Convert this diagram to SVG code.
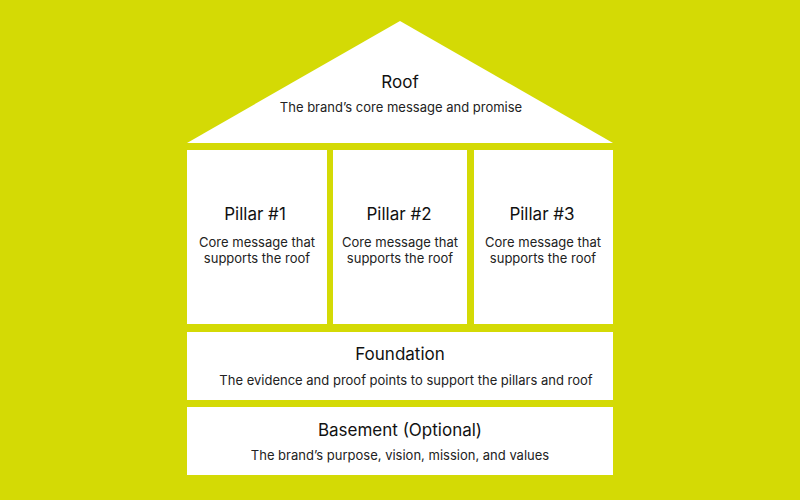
<svg xmlns="http://www.w3.org/2000/svg" width="800" height="500" viewBox="0 0 800 500">
<style>
.bg{fill:#d4da05}
.box{fill:#ffffff}
.t{font-family:Inter,"Liberation Sans",sans-serif;font-size:17px;font-weight:400;fill:#111;text-anchor:middle}
.s{font-family:Inter,"Liberation Sans",sans-serif;font-size:13px;fill:#222;text-anchor:middle}
</style>
<rect class="bg" x="0" y="0" width="800" height="500"/>
<g id="roof">
<polygon class="box" points="400,21 613,143 187,143"/>
<text class="t" x="400" y="88">Roof</text>
<text class="s" x="401" y="112">The brand’s core message and promise</text>
</g>
<g id="pillar1">
<rect class="box" x="187" y="150" width="140" height="174"/>
<text class="t" x="255" y="220">Pillar #1</text>
<text class="s" x="257" y="247">Core message that</text>
<text class="s" x="257" y="263">supports the roof</text>
</g>
<g id="pillar2">
<rect class="box" x="333" y="150" width="134" height="174"/>
<text class="t" x="399" y="220">Pillar #2</text>
<text class="s" x="400" y="247">Core message that</text>
<text class="s" x="400" y="263">supports the roof</text>
</g>
<g id="pillar3">
<rect class="box" x="474" y="150" width="139" height="174"/>
<text class="t" x="542" y="220">Pillar #3</text>
<text class="s" x="543" y="247">Core message that</text>
<text class="s" x="543" y="263">supports the roof</text>
</g>
<g id="foundation">
<rect class="box" x="187" y="332" width="426" height="68"/>
<text class="t" x="400" y="360">Foundation</text>
<text class="s" x="406" y="385">The evidence and proof points to support the pillars and roof</text>
</g>
<g id="basement">
<rect class="box" x="187" y="407" width="426" height="68"/>
<text class="t" x="400" y="436">Basement (Optional)</text>
<text class="s" x="400" y="460">The brand’s purpose, vision, mission, and values</text>
</g>
<g id="connectors"/>
</svg>
